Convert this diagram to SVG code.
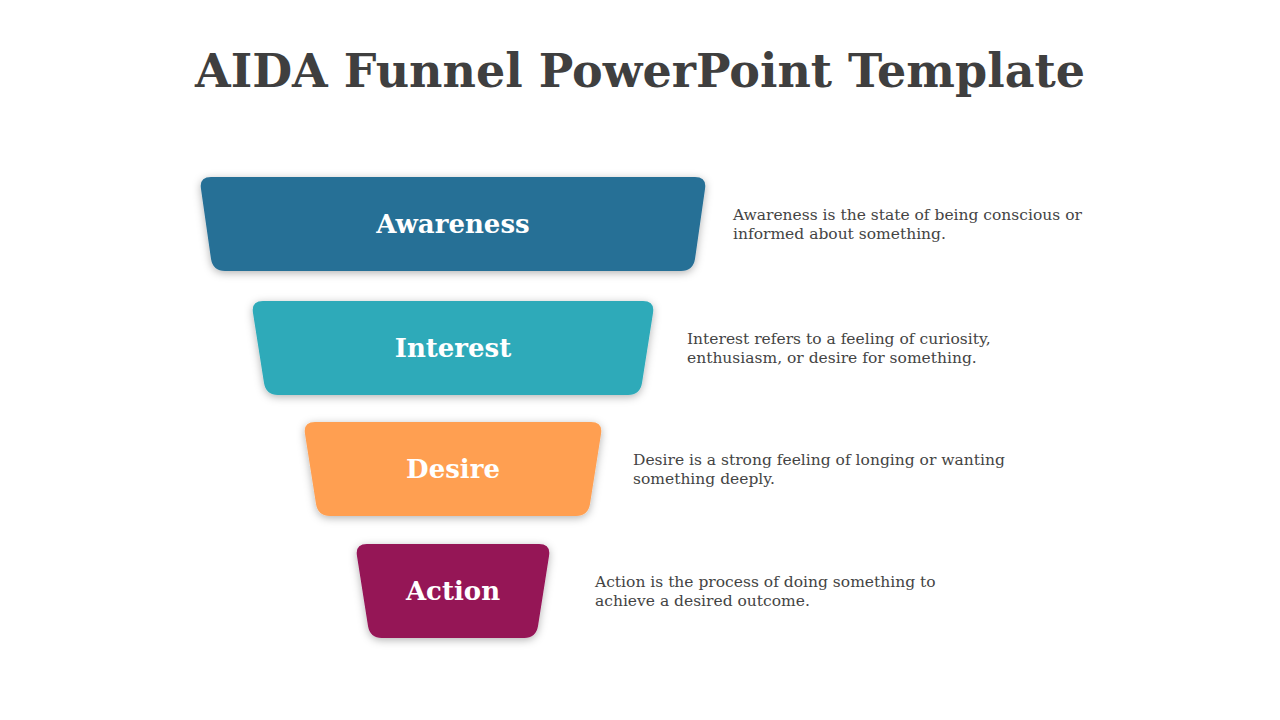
<svg xmlns="http://www.w3.org/2000/svg" width="1280" height="720" viewBox="0 0 1280 720">
<style>
.t{font-family:"DejaVu Serif","Liberation Serif",serif;font-weight:bold;fill:#fff;font-size:26px;text-anchor:middle}
.d{font-family:"DejaVu Serif","Liberation Serif",serif;fill:#444;font-size:15.5px}
</style>
<defs><filter id="sh" x="-10%" y="-20%" width="120%" height="140%"><feDropShadow dx="0" dy="2" stdDeviation="4" flood-color="#000" flood-opacity="0.3"/></filter></defs>
<rect width="1280" height="720" fill="#fff"/>
<text x="640" y="87" text-anchor="middle" font-family="DejaVu Serif,Liberation Serif,serif" font-weight="bold" font-size="46" fill="#3f3f3f">AIDA Funnel PowerPoint Template</text>
<g id="awareness">
<path filter="url(#sh)" fill="#286f96" d="M211,177 L695,177 Q707,177 705,189 L695,259 Q693,271 681,271 L225,271 Q213,271 211,259 L201,189 Q199,177 211,177 Z"/>
<text class="t" x="453" y="233">Awareness</text>
<text class="d" x="733" y="220">Awareness is the state of being conscious or</text>
<text class="d" x="733" y="239">informed about something.</text>
</g>
<g id="interest">
<path filter="url(#sh)" fill="#2daab9" d="M263,301 L643,301 Q655,301 653,313 L642,383 Q640,395 628,395 L278,395 Q266,395 264,383 L253,313 Q251,301 263,301 Z"/>
<text class="t" x="453" y="357">Interest</text>
<text class="d" x="687" y="344">Interest refers to a feeling of curiosity,</text>
<text class="d" x="687" y="363">enthusiasm, or desire for something.</text>
</g>
<g id="desire">
<path filter="url(#sh)" fill="#ff9f51" d="M315,422 L591,422 Q603,422 601,434 L590,504 Q588,516 576,516 L330,516 Q318,516 316,504 L305,434 Q303,422 315,422 Z"/>
<text class="t" x="453" y="478">Desire</text>
<text class="d" x="633" y="465">Desire is a strong feeling of longing or wanting</text>
<text class="d" x="633" y="484">something deeply.</text>
</g>
<g id="action">
<path filter="url(#sh)" fill="#951257" d="M367,544 L539,544 Q551,544 549,556 L538,626 Q536,638 524,638 L382,638 Q370,638 368,626 L357,556 Q355,544 367,544 Z"/>
<text class="t" x="453" y="600">Action</text>
<text class="d" x="595" y="587">Action is the process of doing something to</text>
<text class="d" x="595" y="606">achieve a desired outcome.</text>
</g>
<g id="connectors"/>
</svg>
